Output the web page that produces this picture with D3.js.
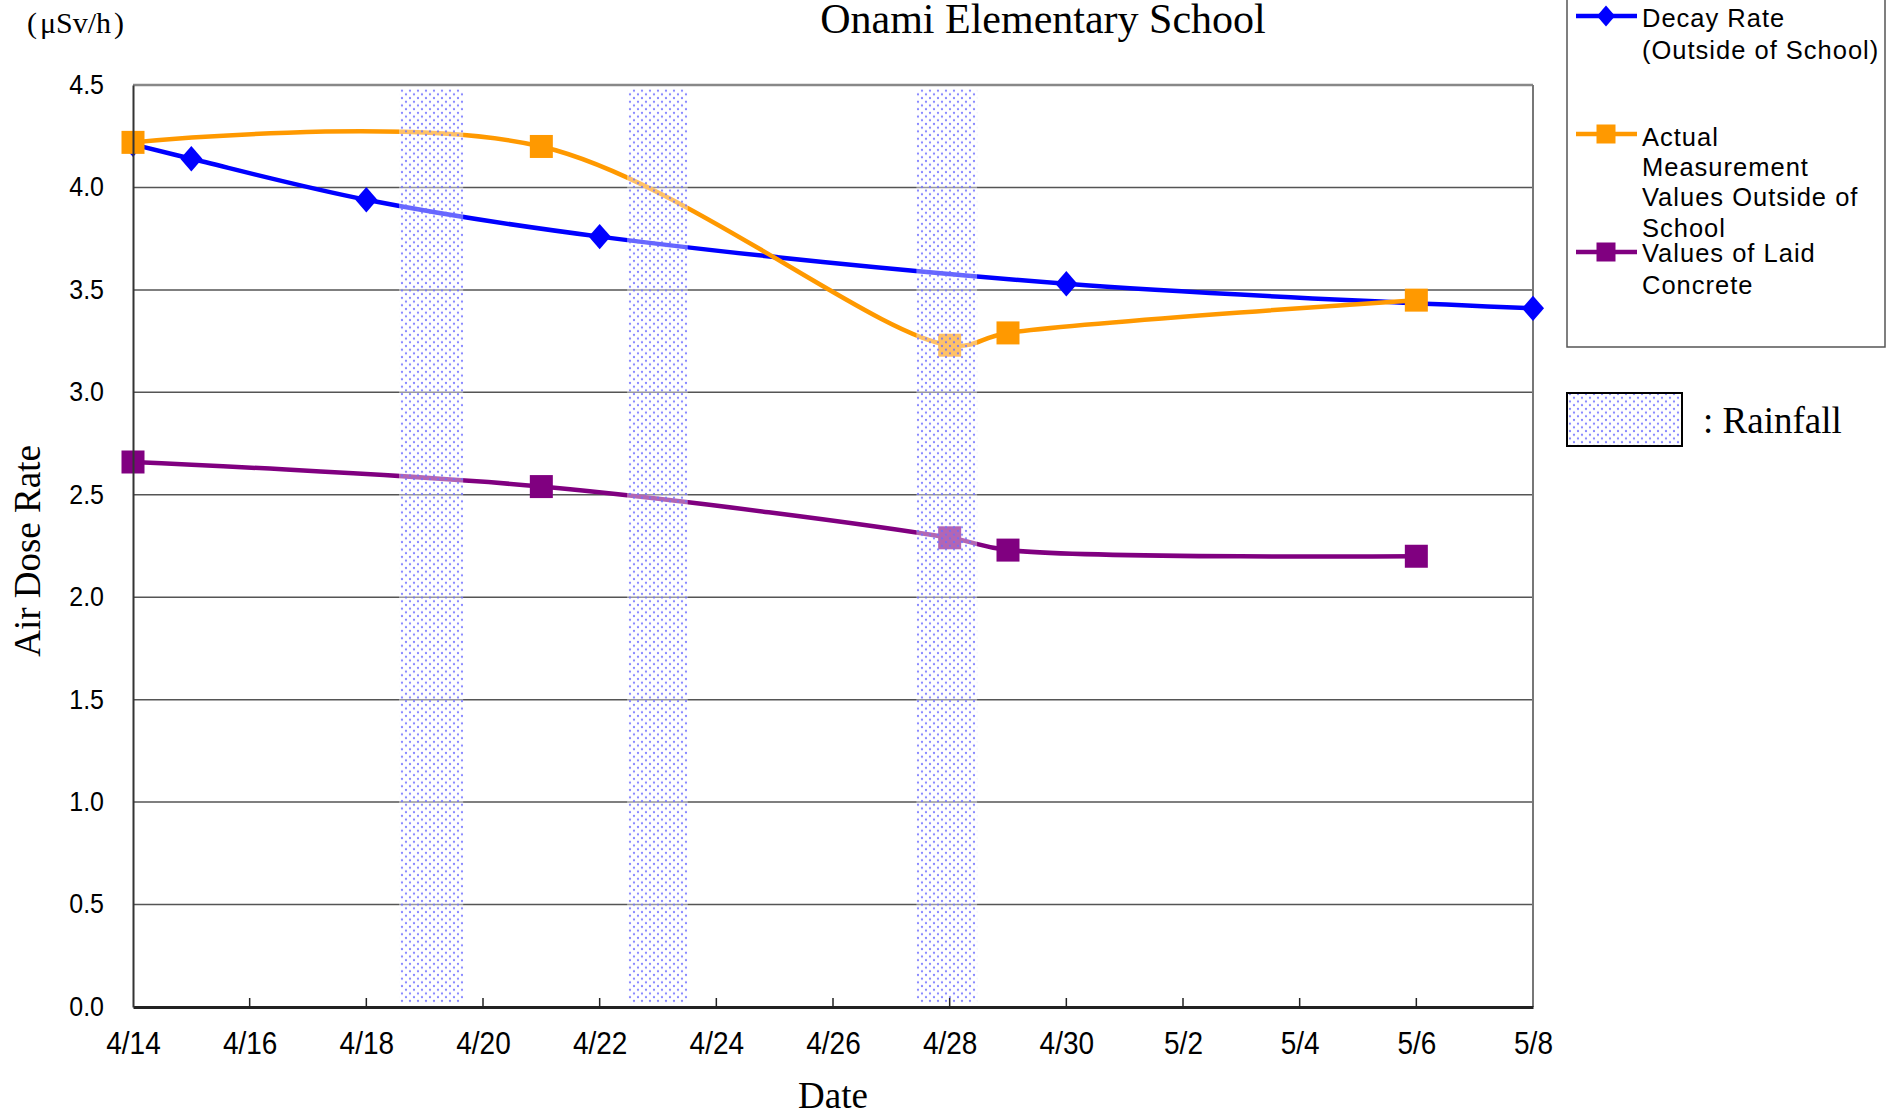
<!DOCTYPE html>
<html><head><meta charset="utf-8">
<script src="https://cdn.jsdelivr.net/npm/d3@7"></script>
<style>body{margin:0;background:#fff;} svg{display:block;}</style>
</head><body>
<svg id="chart" width="1897" height="1118"></svg>
<script>
// ---------- data ----------
const chartTitle = "Onami Elementary School";
const unitLabel = "(μSv/h)";
const yAxisTitle = "Air Dose Rate";
const xAxisTitle = "Date";
// days counted as April day-of-month (5/1 = 31)
const xTickDays = [14,16,18,20,22,24,26,28,30,32,34,36,38];
const xTickLabels = ["4/14","4/16","4/18","4/20","4/22","4/24","4/26","4/28","4/30","5/2","5/4","5/6","5/8"];
const yTicks = [0,0.5,1.0,1.5,2.0,2.5,3.0,3.5,4.0,4.5];
const yTickLabels = ["0.0","0.5","1.0","1.5","2.0","2.5","3.0","3.5","4.0","4.5"];

const decayDays = [14,15,18,22,30,38];
const decayValues = [4.21,4.14,3.94,3.76,3.53,3.41];
const actualDays = [14,21,28,29,36];
const actualValues = [4.22,4.20,3.23,3.29,3.45];
const concreteDays = [14,21,28,29,36];
const concreteValues = [2.66,2.54,2.29,2.23,2.20];

const rainStartDays = [18.56,22.47,27.43];
const rainEndDays = [19.66,23.51,28.47];
const rainTop = 4.48, rainBottom = 0.02;

const legendLabels = [
  ["Decay Rate","(Outside of School)"],
  ["Actual","Measurement","Values Outside of","School"],
  ["Values of Laid","Concrete"]
];
const rainLegendLabel = ": Rainfall";

// ---------- layout ----------
const svg = d3.select("#chart");
const L = 133, R = 1533, T = 85, B = 1007;
const x = d3.scaleLinear().domain([14,38]).range([L,R]);
const y = d3.scaleLinear().domain([0,4.5]).range([B,T]);

const defs = svg.append("defs");
const pat = defs.append("pattern").attr("id","rain").attr("patternUnits","userSpaceOnUse")
  .attr("width",8).attr("height",7.4);
pat.append("rect").attr("width",8).attr("height",7.4).attr("fill","#fff").attr("fill-opacity",0.4);
pat.append("circle").attr("cx",2).attr("cy",1.8).attr("r",1.15).attr("fill","#6a6aff").attr("fill-opacity",0.8);
pat.append("circle").attr("cx",6).attr("cy",5.5).attr("r",1.15).attr("fill","#6a6aff").attr("fill-opacity",0.8);

// grid lines
svg.append("g").selectAll("line").data(yTicks.filter(v=>v>0)).join("line")
  .attr("x1",L).attr("x2",R).attr("y1",d=>y(d)).attr("y2",d=>y(d))
  .attr("stroke",d=>d===4.5?"#888":"#555").attr("stroke-width",d=>d===4.5?2.5:1.5);
// right border
svg.append("line").attr("x1",R).attr("x2",R).attr("y1",T).attr("y2",B).attr("stroke","#777").attr("stroke-width",2);

// series
const series = [
  {days:decayDays, vals:decayValues, color:"#0000ff", marker:"diamond"},
  {days:actualDays, vals:actualValues, color:"#ff9900", marker:"square"},
  {days:concreteDays, vals:concreteValues, color:"#800080", marker:"square"}
];
const line = d3.line().x(d=>x(d[0])).y(d=>y(d[1])).curve(d3.curveCatmullRom.alpha(0.5));
function drawMarker(g, type, cx, cy, color, s){
  if(type==="square"){
    g.append("rect").attr("x",cx-s/2).attr("y",cy-s/2).attr("width",s).attr("height",s).attr("fill",color);
  } else {
    const w=s*0.48, h=s*0.55;
    g.append("path").attr("d",`M${cx},${cy-h}L${cx+w},${cy}L${cx},${cy+h}L${cx-w},${cy}Z`).attr("fill",color);
  }
}
const sg = svg.append("g");
series.forEach(s=>{
  const pts = s.days.map((d,i)=>[d,s.vals[i]]);
  sg.append("path").datum(pts).attr("d",line).attr("fill","none").attr("stroke",s.color).attr("stroke-width",4.5);
});
series.forEach(s=>{
  s.days.forEach((d,i)=>drawMarker(sg, s.marker, x(d), y(s.vals[i]), s.color, 23));
});

// rain bands
svg.append("g").selectAll("rect").data(rainStartDays).join("rect")
  .attr("x",d=>x(d)).attr("width",(d,i)=>x(rainEndDays[i])-x(d))
  .attr("y",y(rainTop)).attr("height",y(rainBottom)-y(rainTop))
  .attr("fill","url(#rain)");

// axes
const xAxis = d3.axisBottom(x).tickValues(xTickDays).tickSize(0).tickFormat((d,i)=>xTickLabels[i]);
const xg = svg.append("g").attr("transform",`translate(0,${B})`).call(xAxis);
xg.select(".domain").attr("stroke","#222").attr("stroke-width",3);
xg.selectAll(".tick text").attr("font-family","Liberation Sans, Arial, sans-serif").attr("font-size",28)
  .attr("fill","#000").attr("y",0).attr("dy","0")
  .attr("transform","translate(0,47) scale(1,1.15)");
svg.append("g").selectAll("line").data(xTickDays.slice(1,-1)).join("line")
  .attr("x1",d=>x(d)).attr("x2",d=>x(d)).attr("y1",B).attr("y2",B-9).attr("stroke","#222").attr("stroke-width",1.5);

const yAxis = d3.axisLeft(y).tickValues(yTicks).tickSize(0).tickPadding(29).tickFormat((d,i)=>yTickLabels[i]);
const yg = svg.append("g").attr("transform",`translate(${L},0)`).call(yAxis);
yg.select(".domain").attr("stroke","#333").attr("stroke-width",2);
yg.selectAll(".tick text").attr("font-family","Liberation Sans, Arial, sans-serif").attr("font-size",25).attr("fill","#000")
  .attr("y",0).attr("dy","0.3em").attr("transform","scale(1,1.12)");

// titles
svg.append("text").attr("x",1043).attr("y",33).attr("text-anchor","middle")
  .attr("font-family","Liberation Serif, Times New Roman, serif").attr("font-size",42).text(chartTitle);
const ut = svg.append("text").attr("x",27).attr("y",33)
  .attr("font-family","Liberation Serif, Times New Roman, serif").attr("font-size",30);
ut.append("tspan").text(unitLabel.slice(0,1));
ut.append("tspan").attr("dx",3).text(unitLabel.slice(1,-1));
ut.append("tspan").attr("dx",3).text(unitLabel.slice(-1));
svg.append("text").attr("transform","translate(40,551) rotate(-90)").attr("text-anchor","middle")
  .attr("font-family","Liberation Serif, Times New Roman, serif").attr("font-size",37).text(yAxisTitle);
svg.append("text").attr("x",833).attr("y",1108).attr("text-anchor","middle")
  .attr("font-family","Liberation Serif, Times New Roman, serif").attr("font-size",37).text(xAxisTitle);

// legend
svg.append("rect").attr("x",1567).attr("y",-1).attr("width",318).attr("height",348)
  .attr("fill","#fff").attr("stroke","#555").attr("stroke-width",1.5);
const legY = [16,134,252];
const legTextY = [[18,50],[137,167,197,228],[253,285]];
const lg = svg.append("g");
series.forEach((s,i)=>{
  lg.append("line").attr("x1",1576).attr("x2",1637).attr("y1",legY[i]).attr("y2",legY[i])
    .attr("stroke",s.color).attr("stroke-width",4.5);
  drawMarker(lg, s.marker, 1606, legY[i], s.color, 19);
  legendLabels[i].forEach((t,j)=>{
    lg.append("text").attr("x",1642).attr("y",legTextY[i][j]).attr("dominant-baseline","central")
      .attr("font-family","Liberation Sans, Arial, sans-serif").attr("font-size",25.5).attr("letter-spacing",1)
      .text(t);
  });
});
svg.append("rect").attr("x",1567).attr("y",393).attr("width",115).attr("height",53)
  .attr("fill","#fff");
svg.append("rect").attr("x",1567).attr("y",393).attr("width",115).attr("height",53)
  .attr("fill","url(#rain)").attr("stroke","#000").attr("stroke-width",2);
svg.append("text").attr("x",1703).attr("y",433)
  .attr("font-family","Liberation Serif, Times New Roman, serif").attr("font-size",37).text(rainLegendLabel);
</script>
</body></html>
